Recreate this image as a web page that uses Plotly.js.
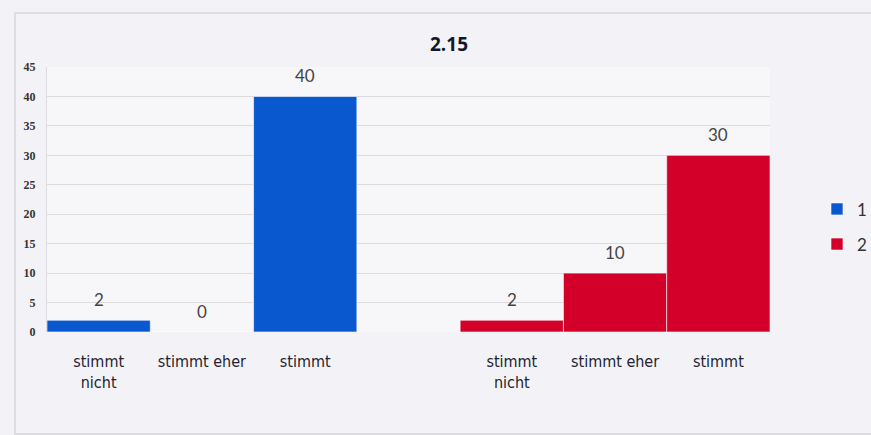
<!DOCTYPE html>
<html>
<head>
<meta charset="utf-8">
<script src="https://cdn.plot.ly/plotly-3.0.1.min.js"></script>
<style>
  html, body { margin: 0; padding: 0; background: #f3f3f7; }
  #wrap { position: relative; width: 871px; height: 435px; overflow: hidden; }
  #chart { position: absolute; left: 0; top: 0; width: 871px; height: 435px; }
  #frame { position: absolute; left: 14px; top: 12px; width: 900px; height: 419px;
           border-left: 2px solid #dddde2; border-top: 2px solid #dddde2; border-bottom: 2px solid #dddde2;
           pointer-events: none; }
</style>
</head>
<body>
<div id="wrap">
  <div id="chart"></div>
  <div id="frame"></div>
</div>
<script>
// Answer categories, shared by both groups
const categories = ["stimmt<br>nicht", "stimmt eher", "stimmt"];
// Counts per group
const group1Values = [2, 0, 40];
const group2Values = [2, 10, 30];
const seriesNames = ["1", "2"];
const yTicks = [0, 5, 10, 15, 20, 25, 30, 35, 40, 45];

const colors = ["#0a58d0", "#d3002a"];

// Slot positions: group 1, one empty slot, then group 2
const pos1 = categories.map((_, i) => i);
const pos2 = categories.map((_, i) => i + categories.length + 1);

function barTrace(x, y, name, color, group) {
  return {
    type: "bar",
    x: x,
    y: y,
    name: name,
    legendgroup: group,
    width: 1,
    marker: { color: color, line: { color: "rgba(255,255,255,0.6)", width: 1 } },
    hoverinfo: "y"
  };
}

const traces = [
  barTrace(pos1, group1Values, seriesNames[0], colors[0], "g1"),
  barTrace(pos2, group2Values, seriesNames[1], colors[1], "g2")
];

// Value labels above each bar
const valueAnnotations = [];
[[pos1, group1Values], [pos2, group2Values]].forEach(([xs, ys]) => {
  xs.forEach((x, i) => {
    valueAnnotations.push({
      x: x, y: ys[i], xref: "x", yref: "y",
      text: String(ys[i]),
      showarrow: false,
      yanchor: "bottom",
      yshift: 8,
      font: { family: "Lato, 'Open Sans', sans-serif", size: 17, color: "#444" }
    });
  });
});

const layout = {
  width: 871,
  height: 435,
  margin: { l: 47, r: 101, t: 67, b: 103 },
  paper_bgcolor: "#f3f3f7",
  plot_bgcolor: "#f7f7f9",
  title: {
    text: "<b>2.15</b>",
    xref: "container", yref: "container",
    x: 0.5155, y: 0.899,
    xanchor: "center", yanchor: "middle",
    font: { family: "'Open Sans', 'DejaVu Sans', sans-serif", size: 19, color: "#15152a" }
  },
  bargap: 0,
  showlegend: true,
  legend: {
    xref: "container", yref: "container",
    x: 0.938, y: 0.56,
    xanchor: "left", yanchor: "top",
    bgcolor: "rgba(0,0,0,0)",
    traceorder: "grouped",
    tracegroupgap: 10,
    itemwidth: 30,
    font: { family: "Lato, 'Open Sans', sans-serif", size: 17, color: "#333" }
  },
  xaxis: {
    range: [-0.5, pos2[pos2.length - 1] + 0.5],
    tickmode: "array",
    tickvals: pos1.concat(pos2),
    ticktext: categories.concat(categories),
    ticks: "",
    ticklabelstandoff: 18,
    showgrid: false,
    zeroline: false,
    showline: false,
    fixedrange: true,
    tickfont: { family: "'DejaVu Sans Condensed', 'DejaVu Sans', sans-serif", stretch: "condensed", size: 16, color: "#222230" }
  },
  yaxis: {
    range: [0, 45],
    tickmode: "array",
    tickvals: yTicks,
    ticks: "",
    ticklabelstandoff: 8,
    showgrid: true,
    gridcolor: "#dcdce0",
    gridwidth: 1,
    zeroline: false,
    showline: true,
    linecolor: "#dcdce0",
    linewidth: 1,
    fixedrange: true,
    tickfont: { family: "'Liberation Serif', serif", size: 12, color: "#333", weight: "bold" }
  },
  annotations: valueAnnotations
};

Plotly.newPlot("chart", traces, layout, { displayModeBar: false, staticPlot: true });
</script>
</body>
</html>
